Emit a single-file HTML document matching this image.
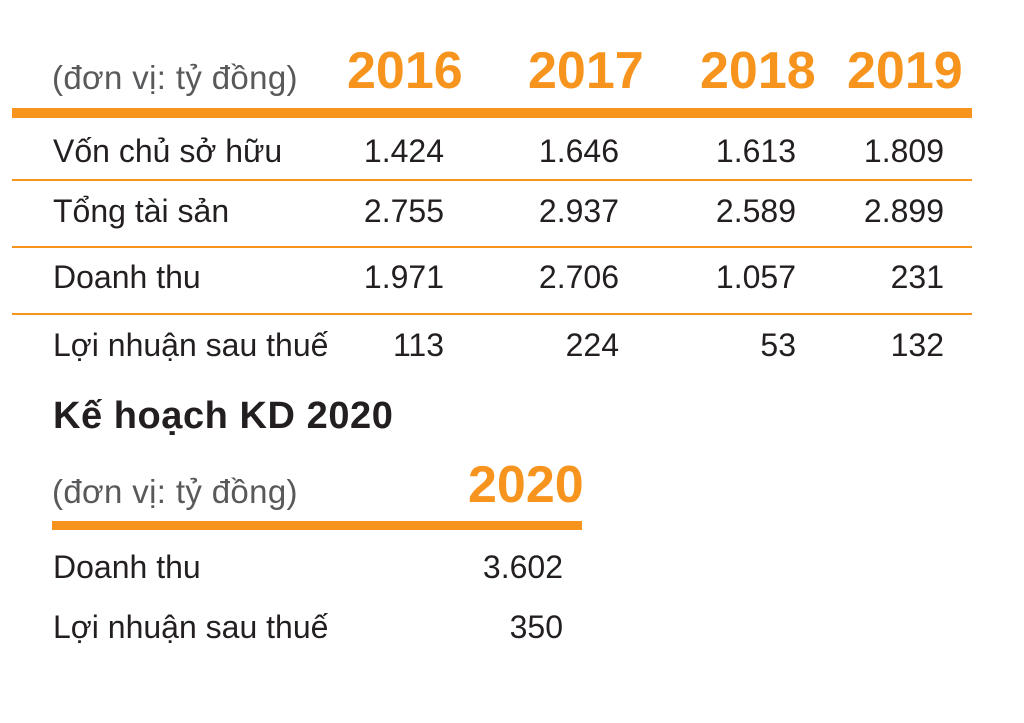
<!DOCTYPE html>
<html><head><meta charset="utf-8"><style>
body{margin:0;width:1024px;height:723px;background:#fff;position:relative;overflow:hidden;font-family:"Liberation Sans",sans-serif}
.t{position:absolute;line-height:1;white-space:nowrap}
.h{font-size:33px;color:#58595b;letter-spacing:0.35px}
.y{font-size:52px;font-weight:bold;color:#f7941d}
.r{font-size:32px;color:#231f20}
.n{font-size:32px;color:#231f20;text-align:right;width:200px}
.bar{position:absolute;background:#f7941d}
</style></head><body>
<div class="t h" style="left:52px;top:61px">(đơn vị: tỷ đồng)</div>
<div class="t y" style="left:347px;top:45px">2016</div>
<div class="t y" style="left:528px;top:45px">2017</div>
<div class="t y" style="left:700px;top:45px">2018</div>
<div class="t y" style="left:847px;top:45px">2019</div>
<div class="bar" style="left:12px;top:108px;width:960px;height:10px"></div>
<div class="bar" style="left:12px;top:179px;width:960px;height:2px"></div>
<div class="bar" style="left:12px;top:246px;width:960px;height:2px"></div>
<div class="bar" style="left:12px;top:313px;width:960px;height:2px"></div>

<div class="t r" style="left:53px;top:135px">Vốn chủ sở hữu</div>
<div class="t n" style="left:244px;top:135px">1.424</div>
<div class="t n" style="left:419px;top:135px">1.646</div>
<div class="t n" style="left:596px;top:135px">1.613</div>
<div class="t n" style="left:744px;top:135px">1.809</div>

<div class="t r" style="left:53px;top:195px">Tổng tài sản</div>
<div class="t n" style="left:244px;top:195px">2.755</div>
<div class="t n" style="left:419px;top:195px">2.937</div>
<div class="t n" style="left:596px;top:195px">2.589</div>
<div class="t n" style="left:744px;top:195px">2.899</div>

<div class="t r" style="left:53px;top:261px">Doanh thu</div>
<div class="t n" style="left:244px;top:261px">1.971</div>
<div class="t n" style="left:419px;top:261px">2.706</div>
<div class="t n" style="left:596px;top:261px">1.057</div>
<div class="t n" style="left:744px;top:261px">231</div>

<div class="t r" style="left:53px;top:329px">Lợi nhuận sau thuế</div>
<div class="t n" style="left:244px;top:329px">113</div>
<div class="t n" style="left:419px;top:329px">224</div>
<div class="t n" style="left:596px;top:329px">53</div>
<div class="t n" style="left:744px;top:329px">132</div>

<div class="t" style="left:53px;top:397px;font-size:38px;font-weight:bold;color:#231f20;letter-spacing:0.55px">Kế hoạch KD 2020</div>
<div class="t h" style="left:52px;top:475px">(đơn vị: tỷ đồng)</div>
<div class="t y" style="left:468px;top:459px">2020</div>
<div class="bar" style="left:52px;top:521px;width:530px;height:9px"></div>
<div class="t r" style="left:53px;top:551px">Doanh thu</div>
<div class="t n" style="left:363px;top:551px">3.602</div>
<div class="t r" style="left:53px;top:611px">Lợi nhuận sau thuế</div>
<div class="t n" style="left:363px;top:611px">350</div>
</body></html>
